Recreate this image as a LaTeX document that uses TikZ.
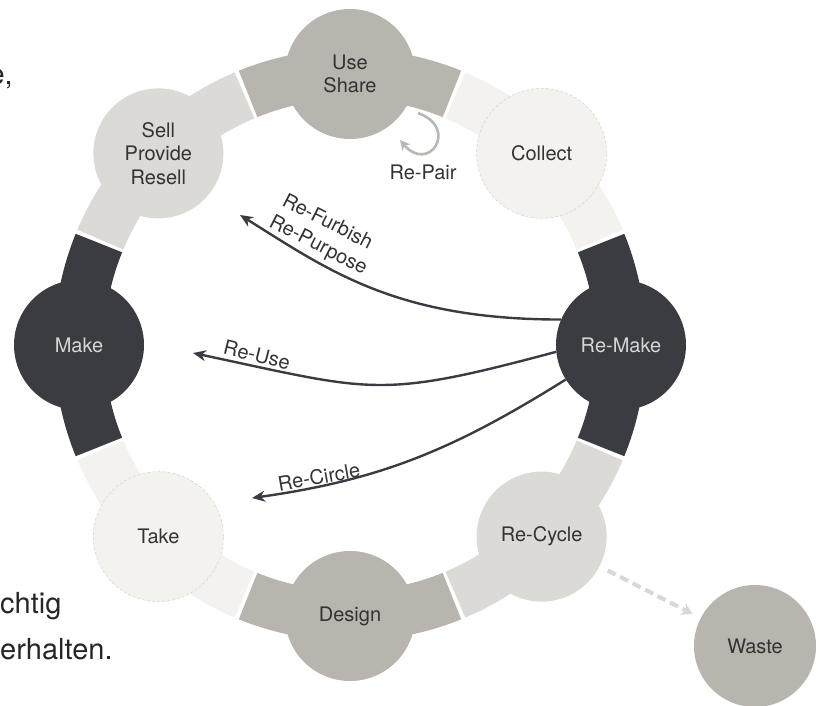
\documentclass[tikz,border=0pt]{standalone}
\usepackage{fontspec}
\setmainfont{TeX Gyre Heros}
\usetikzlibrary{calc,positioning,arrows.meta,backgrounds}

\definecolor{darkfill}{HTML}{3A3C41}
\definecolor{midfill}{HTML}{B8B4AE}
\definecolor{lightfill}{HTML}{DCDAD6}
\definecolor{palefill}{HTML}{F3F2EF}
\definecolor{paleline}{HTML}{DAD8D4}
\definecolor{labeltext}{HTML}{333333}
\definecolor{pairgrey}{HTML}{B9B7B3}

\begin{document}
\begin{tikzpicture}[
  x=1pt,y=1pt,
  stage/.style={circle,inner sep=0pt,minimum size=130pt,align=center,text=labeltext,
    font=\fontsize{20pt}{23.5pt}\selectfont},
  darkstage/.style={stage,fill=darkfill,text=white!84!black},
  midstage/.style={stage,fill=midfill},
  lightstage/.style={stage,fill=lightfill},
  palestage/.style={stage,fill=palefill,draw=paleline,densely dashed,line width=0.6pt},
  band/.style={line width=50pt},
  flow/.style={draw=darkfill,line width=2.4pt,-{Stealth[length=13pt,width=11pt]}},
  pairflow/.style={draw=pairgrey,line width=2.6pt,-{Stealth[length=10pt,width=10pt]}},
  wasteflow/.style={draw=paleline,line width=4pt,dash pattern=on 9pt off 5pt,
    -{Stealth[length=11pt,width=13pt]},shorten <=9pt,shorten >=9pt},
  flowlabel/.style={text=labeltext,font=\fontsize{20pt}{24pt}\selectfont,inner sep=0pt},
  fragment/.style={text=black!85,font=\fontsize{29pt}{35pt}\selectfont,inner sep=0pt},
]
  \useasboundingbox (0,0) rectangle (822,-706);
  \coordinate (hub) at (350,-345);

  % Ring of stages
  \node[midstage] (useshare) at ($(hub)+(90:271)$) {Use\\Share};
  \node[palestage] (collect) at ($(hub)+(45:271)$) {Collect};
  \node[darkstage] (remake) at ($(hub)+(0:271)$) {Re-Make};
  \node[lightstage] (recycle) at ($(hub)+(-45:271)$) {Re-Cycle};
  \node[midstage] (design) at ($(hub)+(-90:271)$) {Design};
  \node[palestage] (take) at ($(hub)+(-135:271)$) {Take};
  \node[darkstage] (make) at ($(hub)+(180:271)$) {Make};
  \node[lightstage] (sell) at ($(hub)+(135:271)$) {Sell\\Provide\\Resell};

  % Outside the ring
  \node[midstage,minimum size=122pt] (waste) at (755,-646) {Waste};

  % Arms between the stages
  \begin{scope}[on background layer]
    \draw[band,midfill] (useshare.center) arc[start angle=90,delta angle=22.1,radius=271]
      (useshare.center) arc[start angle=90,delta angle=-22.1,radius=271];
    \draw[band,palefill] (collect.center) arc[start angle=45,delta angle=22.1,radius=271]
      (collect.center) arc[start angle=45,delta angle=-22.1,radius=271];
    \draw[band,darkfill] (remake.center) arc[start angle=0,delta angle=22.1,radius=271]
      (remake.center) arc[start angle=0,delta angle=-22.1,radius=271];
    \draw[band,lightfill] (recycle.center) arc[start angle=-45,delta angle=22.1,radius=271]
      (recycle.center) arc[start angle=-45,delta angle=-22.1,radius=271];
    \draw[band,midfill] (design.center) arc[start angle=-90,delta angle=22.1,radius=271]
      (design.center) arc[start angle=-90,delta angle=-22.1,radius=271];
    \draw[band,palefill] (take.center) arc[start angle=-135,delta angle=22.1,radius=271]
      (take.center) arc[start angle=-135,delta angle=-22.1,radius=271];
    \draw[band,darkfill] (make.center) arc[start angle=180,delta angle=22.1,radius=271]
      (make.center) arc[start angle=180,delta angle=-22.1,radius=271];
    \draw[band,lightfill] (sell.center) arc[start angle=135,delta angle=22.1,radius=271]
      (sell.center) arc[start angle=135,delta angle=-22.1,radius=271];
  \end{scope}

  % Loose ends of the arrows
  \coordinate (furbishend) at (240,-215);
  \coordinate (useend) at (193,-353);
  \coordinate (circleend) at (252,-498);
  \coordinate (pairstart) at (418,-113);
  \coordinate (pairend) at (400,-140);

  % Arrows back from Re-Make
  \draw[flow] (remake.157) to[out=180,in=-32,out looseness=1.25,in looseness=0.8] (furbishend);
  \draw[flow] (remake.186) to[out=195,in=-12,looseness=1.3] (useend);
  \draw[flow] (remake.212) to[out=212,in=8] (circleend);

  % Repair loop and waste
  \draw[pairflow] (pairstart) to[out=-20,in=-50,looseness=3.5] (pairend);
  \draw[wasteflow] (recycle) -- (waste);

  % Arrow labels
  \node[flowlabel,rotate=-27] (furbishlabel) at (328,-221) {Re-Furbish};
  \node[flowlabel,rotate=-27] (purposelabel) at (318,-246) {Re-Purpose};
  \node[flowlabel,rotate=-14] (uselabel) at (257,-355) {Re-Use};
  \node[flowlabel,rotate=10] (circlelabel) at (319,-477) {Re-Circle};
  \node[flowlabel] (pairlabel) at (423,-172) {Re-Pair};

  % Text running in from the left
  \node[fragment,anchor=base east] (fragtop) at (13,-85) {e,};
  \node[fragment,anchor=base west] (fragmid) at (0,-613) {chtig};
  \node[fragment,anchor=base west] (fragbot) at (0,-659) {erhalten.};
\end{tikzpicture}
\end{document}
